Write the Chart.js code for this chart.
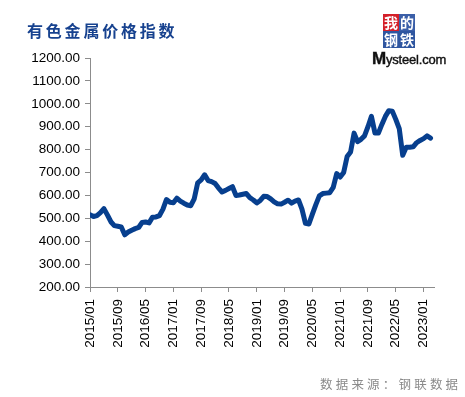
<!DOCTYPE html>
<html>
<head>
<meta charset="utf-8">
<script src="https://cdn.jsdelivr.net/npm/chart.js@4"></script>
<style>
html,body{margin:0;padding:0;background:#fff;}
#wrap{position:relative;width:465px;height:397px;overflow:hidden;}
#c{position:absolute;left:0;top:0;}
#title{position:absolute;left:27px;top:19px;font-family:"Noto Sans CJK SC",sans-serif;font-weight:700;font-size:16px;letter-spacing:2.8px;color:#17428f;white-space:nowrap;line-height:22px;}
#src{position:absolute;left:320px;top:375px;font-family:"Noto Sans CJK SC",sans-serif;font-size:12.5px;letter-spacing:3.2px;color:#8a8a8a;white-space:nowrap;line-height:18px;}
#logo{position:absolute;left:372px;top:12px;width:82px;height:56px;}
.sq{position:absolute;width:16px;height:17px;color:#fff;font-family:"Noto Sans CJK SC",sans-serif;font-size:14px;line-height:17px;text-align:center;font-weight:700;}
#ms{position:absolute;left:0px;top:37px;font-family:"Liberation Sans",Arial,sans-serif;font-size:13px;font-weight:400;color:#111;letter-spacing:-0.2px;white-space:nowrap;-webkit-text-stroke:0.4px #111;}
#ms b{font-size:17px;}
</style>
</head>
<body>
<div id="wrap">
<canvas id="c" width="465" height="397"></canvas>
<div id="title">有色金属价格指数</div>
<div id="logo">
  <div class="sq" style="left:11px;top:2px;background:#d4202a;">我</div>
  <div class="sq" style="left:27px;top:2px;background:#3b5fa8;">的</div>
  <div class="sq" style="left:11px;top:19px;background:#2f56a0;">钢</div>
  <div class="sq" style="left:27px;top:19px;background:#2f56a0;">铁</div>
  <div id="ms"><b>M</b>ysteel.com</div>
</div>
<div id="src">数据来源：钢联数据</div>
</div>
<script>
const months = [
"2015/01","2015/02","2015/03","2015/04","2015/05","2015/06","2015/07","2015/08","2015/09","2015/10","2015/11","2015/12",
"2016/01","2016/02","2016/03","2016/04","2016/05","2016/06","2016/07","2016/08","2016/09","2016/10","2016/11","2016/12",
"2017/01","2017/02","2017/03","2017/04","2017/05","2017/06","2017/07","2017/08","2017/09","2017/10","2017/11","2017/12",
"2018/01","2018/02","2018/03","2018/04","2018/05","2018/06","2018/07","2018/08","2018/09","2018/10","2018/11","2018/12",
"2019/01","2019/02","2019/03","2019/04","2019/05","2019/06","2019/07","2019/08","2019/09","2019/10","2019/11","2019/12",
"2020/01","2020/02","2020/03","2020/04","2020/05","2020/06","2020/07","2020/08","2020/09","2020/10","2020/11","2020/12",
"2021/01","2021/02","2021/03","2021/04","2021/05","2021/06","2021/07","2021/08","2021/09","2021/10","2021/11","2021/12",
"2022/01","2022/02","2022/03","2022/04","2022/05","2022/06","2022/07","2022/08","2022/09","2022/10","2022/11","2022/12",
"2023/01","2023/02","2023/03"
];
const priceIndex = [
515,508,512,525,542,515,485,468,465,462,428,440,
448,455,460,482,484,480,505,506,512,540,582,570,
568,588,575,566,558,555,585,655,668,690,665,660,
652,632,615,622,630,638,600,602,605,608,590,580,
567,578,596,595,585,572,563,562,570,579,566,575,
580,540,478,475,518,560,598,608,610,612,635,695,
680,700,770,790,872,835,845,860,900,945,873,872,
910,945,970,968,932,892,775,810,810,812,830,840,
848,860,850
];
const yTicks = [200,300,400,500,600,700,800,900,1000,1100,1200];
const labelStep = 8;

const points = priceIndex.map((v,i)=>({x:i,y:v}));
const axisColor = '#8c8c8c';

new Chart(document.getElementById('c'), {
  type: 'line',
  data: {
    datasets: [{
      data: points,
      borderColor: '#073f8e',
      borderWidth: 5,
      pointRadius: 0,
      tension: 0,
      borderCapStyle: 'round',
      borderJoinStyle: 'round',
      fill: false
    }]
  },
  options: {
    responsive: false,
    animation: false,
    devicePixelRatio: 1,
    layout: { padding: { top: 58, right: 31, left: 0, bottom: 0 } },
    plugins: { legend: { display: false }, tooltip: { enabled: false }, title: { display: false } },
    scales: {
      x: {
        type: 'linear',
        min: 0,
        max: months.length,
        afterBuildTicks: (s) => {
          const t = [];
          for (let i = 0; i < months.length; i += labelStep) t.push({ value: i });
          s.ticks = t;
        },
        afterFit: (s) => { s.height = 110; },
        ticks: {
          autoSkip: false,
          minRotation: 90,
          maxRotation: 90,
          padding: 7,
          color: '#000',
          font: { family: '"Liberation Sans", Arial, sans-serif', size: 13.5 },
          callback: (v) => months[v]
        },
        grid: { drawOnChartArea: false, drawTicks: true, tickLength: 5, color: axisColor },
        border: { display: true, color: axisColor, width: 1 }
      },
      y: {
        type: 'linear',
        min: 200,
        max: 1200,
        afterBuildTicks: (s) => { s.ticks = yTicks.map(v => ({ value: v })); },
        afterFit: (s) => { s.width = 90; },
        ticks: {
          padding: 5,
          color: '#000',
          font: { family: '"Liberation Sans", Arial, sans-serif', size: 13.5 },
          callback: (v) => v.toFixed(2)
        },
        grid: { drawOnChartArea: false, drawTicks: true, tickLength: 5, color: axisColor },
        border: { display: true, color: axisColor, width: 1 }
      }
    }
  }
});
</script>
</body>
</html>
